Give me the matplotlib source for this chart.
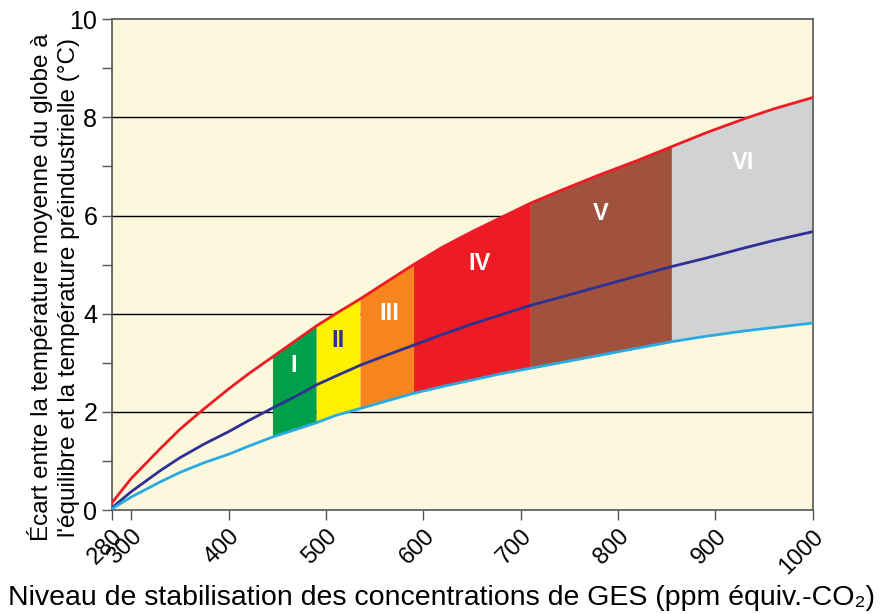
import matplotlib
matplotlib.use("Agg")
import matplotlib.pyplot as plt
import numpy as np

plt.rcParams["font.family"] = ["Liberation Sans", "DejaVu Sans"]

# CO2-eq concentration (ppm) and warming
conc = np.array([280, 300, 330, 350, 375, 400, 420, 445, 470, 490, 510, 535, 560,
                 590, 620, 650, 680, 710, 740, 780, 820, 855, 890, 930, 960, 1000])
upper = np.array([0.15, 0.65, 1.26, 1.65, 2.07, 2.47, 2.77, 3.12, 3.47, 3.75, 4.0, 4.3, 4.62,
                  5.0, 5.36, 5.67, 5.96, 6.25, 6.5, 6.82, 7.12, 7.4, 7.68, 7.97, 8.17, 8.4])
best = np.array([0.05, 0.38, 0.81, 1.07, 1.35, 1.6, 1.82, 2.08, 2.33, 2.55, 2.73, 2.95, 3.14,
                 3.36, 3.58, 3.79, 3.98, 4.17, 4.33, 4.55, 4.77, 4.96, 5.13, 5.34, 5.49, 5.67])
lower = np.array([0.03, 0.27, 0.58, 0.77, 0.97, 1.14, 1.3, 1.49, 1.65, 1.78, 1.93, 2.07, 2.21,
                  2.38, 2.52, 2.65, 2.78, 2.89, 3.0, 3.15, 3.3, 3.43, 3.54, 3.65, 3.72, 3.81])

cat_edges = [445, 490, 535, 590, 710, 855, 1000]
cat_names = ["I", "II", "III", "IV", "V", "VI"]
cat_colors = ["#00a04b", "#fff200", "#f6841f", "#ed1c24", "#a0523e", "#d1d2d4"]
label_x = [467, 512, 565, 658, 782, 929]
label_y = [2.95, 3.46, 4.0, 5.03, 6.05, 7.07]
label_colors = ["white", "#2e3192", "white", "white", "white", "white"]

fig = plt.figure(figsize=(8.88, 6.14), dpi=100)
ax = fig.add_axes([0.126, 0.169, 0.789, 0.8])
ax.set_facecolor("#fcf8dd")

for y in [2, 4, 6, 8]:
    ax.axhline(y, color="black", lw=1.0, zorder=1)

for i, name in enumerate(cat_names):
    m = (conc >= cat_edges[i]) & (conc <= cat_edges[i + 1])
    ax.fill_between(conc[m], lower[m], upper[m], color=cat_colors[i], lw=0, zorder=2)
    ax.text(label_x[i], label_y[i], name, color=label_colors[i], fontsize=17,
            fontweight="bold", ha="center", va="center", zorder=5)

ax.plot(conc, upper, color="#ed1c24", lw=2, zorder=4)
ax.plot(conc, best, color="#2e3192", lw=2, zorder=4)
ax.plot(conc, lower, color="#29abe2", lw=2, zorder=4)

ax.set_xlim(280, 1000)
ax.set_ylim(0, 10)
xticks = [280, 300, 400, 500, 600, 700, 800, 900, 1000]
ax.set_xticks(xticks)
ax.set_xticklabels([str(v) for v in xticks], rotation=45, ha="right",
                   rotation_mode="anchor", fontsize=17)
ax.set_yticks([0, 2, 4, 6, 8, 10])
ax.set_yticks([1, 3, 5, 7, 9], minor=True)
ax.tick_params(axis="y", labelsize=18, length=7, width=1, color="#555555")
ax.tick_params(axis="y", which="minor", length=7, width=1, color="#555555")
ax.tick_params(axis="x", length=7, width=1, color="#555555", pad=4)
for s in ax.spines.values():
    s.set_color("#555555")
    s.set_linewidth(1.2)

ax.set_xlabel("Niveau de stabilisation des concentrations de GES (ppm équiv.-CO\u2082)",
              fontsize=20.5)
ax.xaxis.set_label_coords(0.471, -0.153)
ax.set_ylabel("Écart entre la température moyenne du globe à\n"
              "l'équilibre et la température préindustrielle (°C)",
              fontsize=17.5, linespacing=1.25)
ax.yaxis.set_label_coords(-0.046, 0.454)

fig.savefig("out.png", dpi=100)
